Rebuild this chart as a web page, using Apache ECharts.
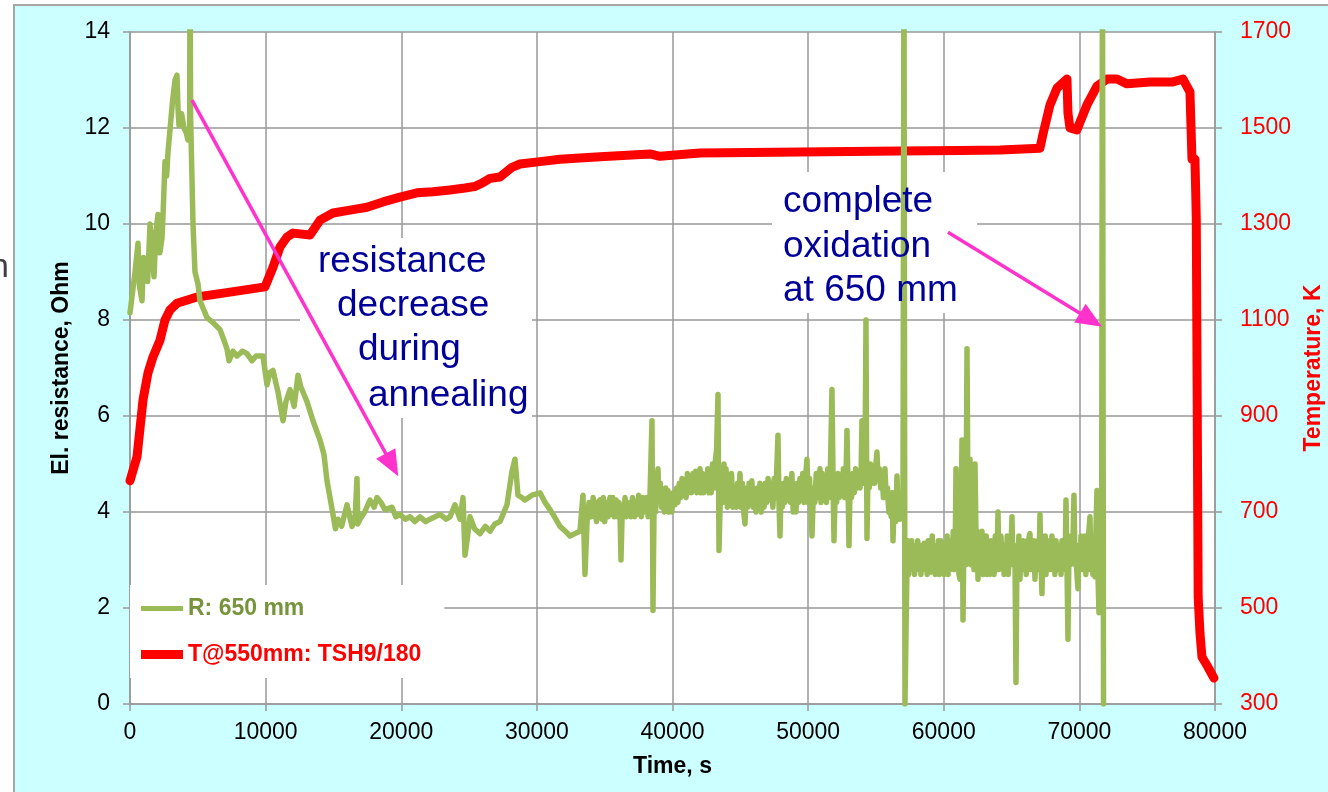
<!DOCTYPE html>
<html>
<head>
    <meta charset="UTF-8">
    <title>resistance and temperature</title>
    <script src="https://cdn.jsdelivr.net/npm/echarts@6/dist/echarts.min.js"></script>
    <style>
        body, html {
            margin: 0;
            padding: 0;
            height: 100%;
            width: 100%;
            background: #fff;
            overflow: hidden;
        }

        #frame {
            position: absolute;
            left: 13px;
            top: 4px;
            width: 1400px;
            height: 900px;
            background: #ccffff;
            border-left: 2px solid #a6a6a6;
            border-top: 2px solid #a6a6a6;
        }

        #chart {
            position: absolute;
            left: 0;
            top: 0;
            width: 1328px;
            height: 792px;
        }
    </style>
</head>
<body>
<div id="frame"></div>
<div id="chart"></div>
<script>
    // R: 650 mm, [time s, Ohm] - heating and first drop
    var resEarly = [[0, 8.15], [370, 9.0], [590, 9.6], [700, 8.7], [885, 8.4], [1000, 9.3], [1106, 9.2], [1300, 8.8],
        [1475, 10.0], [1600, 9.5], [1770, 8.9], [1900, 9.8], [2064, 10.2], [2200, 9.4], [2359, 9.7], [2450, 10.3],
        [2581, 11.3], [2700, 11.0], [2802, 11.5], [3023, 12.2], [3150, 12.6], [3318, 13.0], [3465, 13.1], [3540, 12.4],
        [3613, 12.05], [3800, 12.3], [3981, 12.0], [4150, 11.9], [4276, 11.75], [4400, 11.9], [4424, 16], [4470, 12.2],
        [4645, 10.0], [4792, 9.0], [5014, 8.75], [5161, 8.4], [5677, 8.05], [6100, 7.95], [6636, 7.8], [6900, 7.6],
        [7152, 7.4], [7299, 7.15], [7600, 7.35], [7889, 7.25], [8300, 7.35], [8626, 7.3], [9000, 7.15], [9290, 7.25],
        [9806, 7.25], [10101, 6.65], [10300, 6.9], [10543, 6.95], [10912, 6.5], [11281, 5.9], [11500, 6.3],
        [11797, 6.55], [12100, 6.2], [12387, 6.85], [12600, 6.6], [12755, 6.5], [13050, 6.3], [13493, 5.9],
        [14009, 5.5], [14300, 5.2], [14525, 4.65], [14967, 3.95], [15150, 3.65], [15336, 3.85], [15600, 3.7],
        [16000, 4.15], [16368, 3.7], [16600, 3.9], [16737, 4.7], [16800, 3.75], [16958, 3.85], [17300, 4.0],
        [17696, 4.25], [18000, 4.1], [18211, 4.3], [18500, 4.2], [18801, 4.05], [19317, 4.1], [19600, 3.9],
        [19908, 3.95], [20300, 3.85], [20644, 3.9], [21000, 3.8], [21382, 3.9], [21800, 3.8], [22119, 3.85],
        [22500, 3.9], [22856, 3.95], [23300, 3.85], [23594, 3.9], [23962, 4.15], [24331, 3.85], [24552, 4.3],
        [24700, 3.1], [24847, 3.4], [25068, 3.9], [25400, 3.65], [25806, 3.55], [26200, 3.7], [26543, 3.6],
        [26900, 3.75], [27280, 3.8], [27796, 4.15], [28165, 4.85], [28386, 5.1], [28607, 4.35], [28900, 4.3],
        [29123, 4.25], [29640, 4.35], [30230, 4.4], [30600, 4.2], [30967, 4.05], [31300, 3.9], [31704, 3.7],
        [32100, 3.6], [32441, 3.5], [32800, 3.55], [33178, 3.6], [33399, 4.35], [33547, 2.7]];

    // R: 650 mm - noisy plateau up to the first break
    var resMiddle = [[33700, 3.8], [33850, 4.2], [34000, 3.9], [34150, 4.3], [34284, 4.05], [34400, 3.8],
        [34500, 4.2], [34653, 4.25], [34800, 3.85], [34900, 4.3], [35000, 3.8], [35150, 4.2], [35250, 3.9],
        [35390, 4.3], [35500, 3.95], [35600, 4.3], [35700, 3.9], [35850, 4.25], [35950, 3.9], [36050, 4.2],
        [36127, 4.0], [36201, 3.0], [36300, 4.1], [36400, 3.9], [36500, 4.3], [36600, 3.9], [36700, 4.2],
        [36865, 4.1], [36950, 3.9], [37050, 4.3], [37200, 3.9], [37300, 4.2], [37400, 3.95], [37500, 4.35],
        [37602, 4.15], [37700, 3.9], [37800, 4.3], [37900, 4.0], [38000, 4.0], [38100, 4.3], [38200, 3.9],
        [38340, 4.35], [38487, 5.9], [38561, 1.95], [38650, 4.4], [38750, 4.0], [38850, 4.6], [38930, 4.9],
        [39000, 4.3], [39100, 4.6], [39200, 4.1], [39299, 4.4], [39400, 4.0], [39500, 4.5], [39600, 4.1],
        [39667, 4.45], [39750, 4.0], [39850, 4.3], [39950, 4.0], [40050, 4.4], [40183, 4.15], [40300, 4.5],
        [40400, 4.2], [40500, 4.6], [40600, 4.3], [40700, 4.7], [40773, 4.4], [40900, 4.6], [41000, 4.3],
        [41100, 4.8], [41200, 4.4], [41289, 4.7], [41400, 4.4], [41500, 4.8], [41600, 4.5], [41700, 4.85],
        [41800, 4.4], [41900, 4.7], [42026, 4.9], [42100, 4.4], [42200, 4.8], [42300, 4.4], [42400, 4.75],
        [42500, 4.5], [42600, 4.9], [42700, 4.4], [42764, 4.7], [42850, 4.4], [42950, 5.0], [43050, 4.5],
        [43133, 5.0], [43250, 5.3], [43354, 6.45], [43428, 3.2], [43500, 4.0], [43600, 4.9], [43700, 4.2],
        [43800, 5.0], [43870, 4.4], [43950, 4.9], [44050, 4.1], [44150, 4.7], [44250, 4.2], [44350, 4.8],
        [44450, 4.1], [44607, 4.45], [44700, 4.1], [44800, 4.6], [44900, 4.2], [44976, 4.8], [45050, 4.1],
        [45150, 4.6], [45250, 4.0], [45345, 3.75], [45450, 4.5], [45550, 4.1], [45650, 4.6], [45750, 4.2],
        [45850, 4.65], [45950, 4.1], [46082, 4.45], [46150, 4.0], [46250, 4.5], [46350, 4.1], [46450, 4.6],
        [46550, 4.0], [46650, 4.5], [46750, 4.1], [46850, 4.6], [46950, 4.2], [47050, 4.7], [47187, 4.25],
        [47300, 4.6], [47400, 4.1], [47500, 4.7], [47600, 4.3], [47700, 5.0], [47777, 5.6], [47850, 4.2],
        [47925, 3.5], [48000, 4.4], [48100, 4.1], [48200, 4.6], [48300, 4.2], [48400, 4.7], [48500, 4.3],
        [48600, 4.6], [48700, 4.2], [48800, 4.8], [48900, 4.0], [49000, 4.4], [49100, 4.0], [49200, 4.6],
        [49300, 4.2], [49399, 4.7], [49500, 4.3], [49600, 4.8], [49700, 4.2], [49800, 4.7], [49915, 5.1],
        [50000, 4.2], [50100, 4.7], [50200, 4.1], [50284, 3.5], [50400, 4.5], [50500, 4.2], [50600, 4.8],
        [50700, 4.3], [50800, 4.7], [50874, 4.9], [50950, 4.2], [51050, 4.8], [51150, 4.3], [51250, 4.7],
        [51350, 4.2], [51450, 4.9], [51550, 4.3], [51650, 5.0], [51758, 6.55], [51850, 4.4], [51906, 3.4],
        [52000, 4.5], [52100, 4.2], [52200, 4.8], [52300, 4.3], [52400, 4.7], [52500, 4.4], [52600, 4.9],
        [52700, 4.3], [52800, 4.8], [52864, 5.7], [52950, 4.4], [53012, 3.3], [53100, 4.6], [53200, 4.3],
        [53300, 4.8], [53400, 4.4], [53500, 4.9], [53600, 4.5], [53700, 4.8], [53823, 4.5], [53900, 4.7],
        [53970, 5.9], [54100, 4.6], [54200, 5.2], [54265, 8.0], [54339, 3.45], [54420, 4.9], [54500, 4.5],
        [54600, 5.0], [54700, 4.6], [54800, 4.9], [54900, 4.6], [55000, 5.0], [55076, 5.25], [55150, 4.7],
        [55250, 4.9], [55350, 4.5], [55450, 4.8], [55550, 4.3], [55666, 4.9], [55750, 4.3], [55850, 4.5],
        [55950, 4.0], [56035, 4.15], [56120, 3.9], [56200, 4.4], [56257, 3.4], [56350, 4.2], [56450, 3.8],
        [56552, 4.75], [56650, 3.9], [56772, 3.85], [56850, 4.3], [56993, 4.0], [57067, 16], [57141, 0]];

    // R: 650 mm - after the first break until complete oxidation
    var resLate = [[57289, 2.9], [57350, 3.4], [57420, 2.7], [57500, 3.3], [57560, 2.8], [57640, 3.4], [57700, 2.9],
        [57780, 3.3], [57850, 2.7], [57920, 3.2], [58000, 2.8], [58080, 3.4], [58150, 2.9], [58248, 3.3],
        [58320, 2.7], [58400, 3.2], [58480, 2.8], [58560, 3.35], [58617, 2.9], [58700, 3.3], [58780, 2.7],
        [58850, 3.4], [58930, 2.8], [59000, 3.2], [59080, 2.75], [59150, 3.5], [59207, 2.9], [59300, 3.3],
        [59380, 2.7], [59450, 3.2], [59520, 2.8], [59600, 3.4], [59680, 2.7], [59723, 3.0], [59800, 3.4],
        [59870, 2.8], [59950, 3.3], [60020, 2.7], [60092, 3.2], [60170, 2.9], [60250, 3.5], [60320, 2.7],
        [60400, 3.3], [60460, 2.8], [60540, 3.4], [60620, 2.9], [60700, 3.6], [60780, 2.8], [60850, 3.4],
        [60903, 4.9], [60950, 3.0], [61050, 3.3], [61120, 2.7], [61198, 2.6], [61260, 3.6], [61345, 5.5],
        [61419, 1.75], [61480, 3.3], [61550, 3.8], [61620, 2.9], [61714, 7.4], [61788, 4.0], [61850, 3.0],
        [61935, 5.1], [62000, 2.9], [62083, 3.4], [62150, 4.0], [62230, 2.8], [62304, 5.0], [62400, 3.1],
        [62460, 3.6], [62525, 2.6], [62600, 3.5], [62680, 2.8], [62760, 3.4], [62820, 3.6], [62900, 2.7],
        [62980, 3.3], [63050, 2.9], [63130, 3.5], [63200, 2.7], [63280, 3.2], [63350, 2.8], [63410, 2.7],
        [63480, 3.4], [63560, 2.9], [63640, 3.3], [63720, 2.7], [63800, 3.5], [63870, 2.8], [63940, 3.2],
        [64000, 4.0], [64070, 2.8], [64145, 3.0], [64220, 3.5], [64300, 2.9], [64380, 3.3], [64450, 2.7],
        [64514, 3.3], [64600, 2.9], [64680, 3.5], [64760, 2.7], [64840, 3.2], [64920, 2.9], [65030, 3.9],
        [65100, 2.9], [65200, 3.3], [65260, 2.8], [65325, 0.45], [65400, 3.1], [65472, 3.0], [65540, 3.5],
        [65620, 2.6], [65700, 3.3], [65780, 2.8], [65860, 3.4], [65940, 2.9], [66000, 3.3], [66080, 2.7],
        [66160, 3.4], [66240, 2.9], [66300, 3.5], [66357, 3.55], [66430, 2.8], [66500, 3.3], [66550, 2.8],
        [66640, 3.4], [66726, 2.6], [66800, 3.3], [66870, 2.9], [66950, 3.4], [67020, 2.8], [67094, 3.95],
        [67170, 2.9], [67242, 2.3], [67320, 3.4], [67400, 3.0], [67480, 3.5], [67540, 2.7], [67610, 3.2],
        [67700, 2.9], [67800, 3.4], [67870, 2.8], [67979, 3.5], [68050, 2.9], [68130, 3.3], [68200, 2.7],
        [68280, 3.4], [68350, 2.8], [68430, 3.3], [68500, 2.9], [68569, 3.3], [68650, 2.7], [68720, 3.4],
        [68800, 2.8], [68880, 3.3], [68950, 2.9], [69011, 4.25], [69080, 3.0], [69159, 1.35], [69230, 3.2],
        [69300, 2.9], [69380, 3.5], [69450, 3.0], [69530, 3.4], [69601, 4.35], [69680, 2.9], [69750, 3.3],
        [69820, 2.7], [69896, 2.4], [69970, 3.3], [70050, 2.8], [70120, 3.5], [70200, 2.8], [70280, 3.4],
        [70350, 2.9], [70412, 3.5], [70480, 2.7], [70560, 3.3], [70640, 2.8], [70700, 3.6], [70781, 3.9],
        [70850, 2.8], [70920, 3.4], [71000, 2.7], [71080, 3.5], [71150, 2.65], [71220, 3.6], [71297, 4.45],
        [71360, 2.8], [71445, 1.9], [71520, 3.4], [71592, 3.5], [71640, 2.9], [71700, 16], [71780, 0]];

    // T@550mm: TSH9/180 (K)
    var tempTime = [0, 516, 958, 1327, 1696, 2212, 2581, 2949, 3465, 4940, 7373, 9954, 10543, 11059, 11576, 12018,
        13271, 14009, 14967, 16221, 17474, 18654, 19908, 21161, 22341, 23594, 24700, 25400, 25953, 26543, 27280,
        28165, 28755, 30230, 31704, 34653, 38340, 39077, 42026, 49399, 56772, 61196, 64145, 67094, 67315, 67832,
        68348, 69085, 69159, 69306, 69822, 70043, 70560, 71297, 72034, 72772, 73509, 75205, 76901, 77638, 78154,
        78302, 78523, 78620, 78760, 78891, 79038, 79481, 79923];
    var tempK = [765, 815, 933, 990, 1023, 1058, 1100, 1121, 1135, 1148, 1158, 1169, 1210, 1252, 1273, 1281,
        1277, 1308, 1323, 1329, 1335, 1346, 1356, 1365, 1367, 1371, 1375, 1378, 1385, 1395, 1398,
        1418, 1425, 1430, 1435, 1440, 1446, 1441, 1448, 1450, 1452, 1453, 1454, 1458, 1487, 1548,
        1583, 1602, 1531, 1500, 1496, 1512, 1548, 1587, 1602, 1602, 1592, 1596, 1596, 1602, 1575,
        1435, 1435, 1312, 523, 448, 398, 377, 354];

    // annotation arrows: [start time, start R], [end time, end R]
    var arrowAnnealing = [[4571, 12.58], [19318, 4.98]];
    var arrowOxidation = [[60311, 9.83], [70854, 8.0]];

    var FONT = '"Liberation Sans", Arial, sans-serif';
    var NOTE = '#000099';

    var tempData = tempTime.map(function (t, i) {
        return [t, tempK[i]];
    });
    var resData = resEarly.concat(resMiddle, resLate);

    var chart = echarts.init(document.getElementById('chart'), null, {renderer: 'canvas'});

    var axisGray = {color: '#999', width: 1.5};

    function plain(v) {
        return String(v);
    }

    function noteText(str, x, y) {
        return {
            type: 'text', x: x, y: y, z: 6,
            style: {text: str, fill: NOTE, font: '37px ' + FONT, verticalAlign: 'middle'}
        };
    }

    var option = {
        animation: false,
        backgroundColor: 'transparent',
        textStyle: {fontFamily: FONT},
        grid: {
            left: 130, right: 113, top: 32, bottom: 88, show: true, backgroundColor: '#fff', borderWidth: 0,
            outerBoundsMode: 'none', containLabel: false
        },
        legend: {
            left: 130, top: 585, orient: 'vertical', itemGap: 23,
            itemWidth: 42, itemHeight: 9, symbolKeepAspect: true,
            backgroundColor: '#fff', padding: [12, 23, 12, 11],
            selectedMode: false,
            textStyle: {fontSize: 23, fontWeight: 'bold', fontFamily: FONT},
            data: [
                {name: 'R: 650 mm', icon: 'path://M0,0h42v5h-42z', textStyle: {color: '#77933c'}},
                {name: 'T@550mm: TSH9/180', icon: 'path://M0,0h42v9h-42z', textStyle: {color: '#ff0000'}}
            ]
        },
        xAxis: {
            type: 'value', min: 0, max: 80000, interval: 10000,
            name: 'Time, s', nameLocation: 'middle', nameGap: 51,
            nameTextStyle: {fontSize: 23, fontWeight: 'bold', color: '#000', fontFamily: FONT},
            axisLine: {show: true, lineStyle: axisGray},
            axisTick: {show: true, length: 7, lineStyle: axisGray},
            splitLine: {show: true, lineStyle: axisGray},
            axisLabel: {fontSize: 23, color: '#000', margin: 17, fontFamily: FONT, formatter: plain}
        },
        yAxis: [
            {
                type: 'value', min: 0, max: 14, interval: 2, position: 'left',
                name: 'El. resistance, Ohm', nameLocation: 'middle', nameGap: 57, nameRotate: 90,
                nameTextStyle: {fontSize: 23, fontWeight: 'bold', color: '#000', fontFamily: FONT},
                axisLine: {show: true, lineStyle: axisGray},
                axisTick: {show: true, length: 7, lineStyle: axisGray},
                splitLine: {show: true, lineStyle: axisGray},
                axisLabel: {fontSize: 23, color: '#000', margin: 20, fontFamily: FONT, formatter: plain}
            },
            {
                type: 'value', min: 300, max: 1700, interval: 200, position: 'right',
                name: 'Temperature, K', nameLocation: 'middle', nameGap: 86, nameRotate: 90,
                nameTextStyle: {fontSize: 23, fontWeight: 'bold', color: '#ff0000', fontFamily: FONT},
                axisLine: {show: true, lineStyle: axisGray},
                axisTick: {show: true, length: 7, lineStyle: axisGray},
                splitLine: {show: false},
                axisLabel: {fontSize: 23, color: '#ff0000', margin: 25, fontFamily: FONT, formatter: plain}
            }
        ],
        graphic: [
            // cut-off letter at the slide edge
            {type: 'text', x: -10, y: 268, style: {text: 'n', fill: '#404040', font: '34px ' + FONT, verticalAlign: 'middle'}},
            // white text boxes over the grid
            {type: 'rect', z: 1, shape: {x: 300, y: 238, width: 232, height: 180}, style: {fill: '#fff'}},
            {type: 'rect', z: 1, shape: {x: 772, y: 172, width: 205, height: 141}, style: {fill: '#fff'}},
            noteText('resistance', 318, 262),
            noteText('decrease', 337, 306),
            noteText('during', 358, 350),
            noteText('annealing', 368, 396),
            noteText('complete', 783, 202),
            noteText('oxidation', 783, 247),
            noteText('at 650 mm', 783, 291)
        ],
        series: [
            {
                name: 'T@550mm: TSH9/180', type: 'line', yAxisIndex: 1,
                data: tempData,
                showSymbol: false, symbol: 'none', clip: true,
                lineStyle: {color: '#ff0000', width: 9, cap: 'round', join: 'round'},
                itemStyle: {color: '#ff0000'}
            },
            {
                name: 'R: 650 mm', type: 'line', yAxisIndex: 0,
                data: resData,
                showSymbol: false, symbol: 'none', clip: true,
                lineStyle: {color: '#9bbb59', width: 5.5, cap: 'round', join: 'round'},
                itemStyle: {color: '#9bbb59'},
                markLine: {
                    silent: true, animation: false,
                    symbol: ['none', 'triangle'], symbolSize: [22, 26],
                    label: {show: false},
                    itemStyle: {color: '#ff33cc'},
                    lineStyle: {color: '#ff33cc', width: 3.5, type: 'solid'},
                    emphasis: {disabled: true},
                    data: [
                        [{coord: arrowAnnealing[0]}, {coord: arrowAnnealing[1]}],
                        [{coord: arrowOxidation[0]}, {coord: arrowOxidation[1]}]
                    ]
                }
            }
        ]
    };

    chart.setOption(option);
</script>
</body>
</html>
